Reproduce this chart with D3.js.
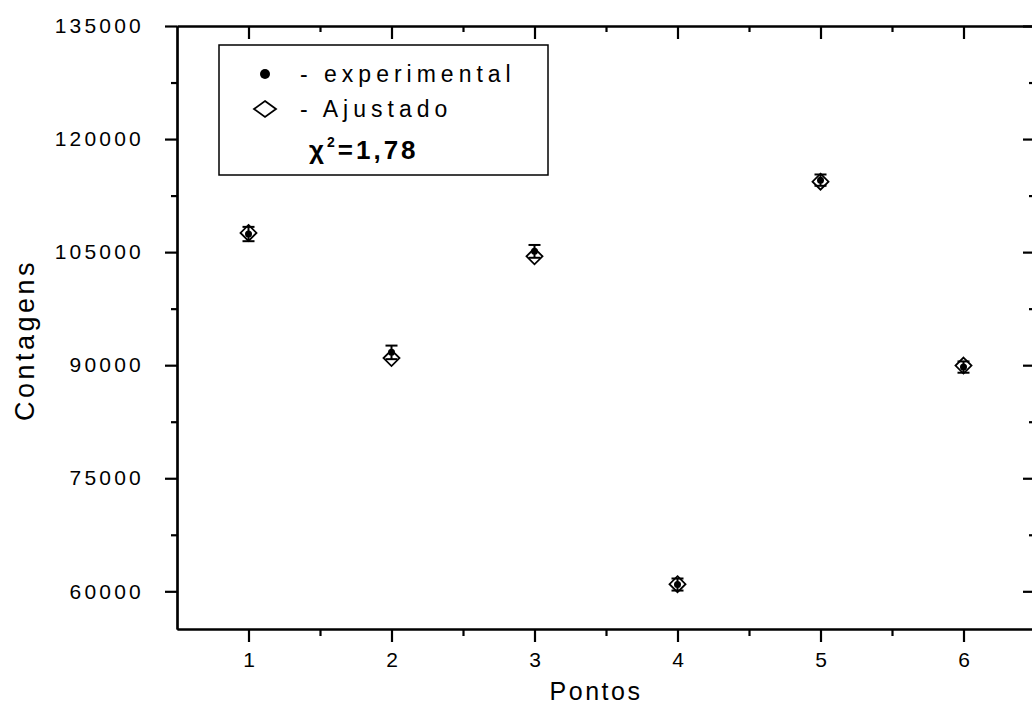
<!DOCTYPE html>
<html>
<head>
<meta charset="utf-8">
<script src="https://cdn.jsdelivr.net/npm/d3@7"></script>
<style>
  html, body { margin: 0; padding: 0; background: #fff; }
  svg { display: block; }
  text { font-family: Arial, "Liberation Sans", sans-serif; fill: #000; }
</style>
</head>
<body>
<svg id="chart" width="1032" height="719"></svg>
<script>
// Point indices on the horizontal axis
const pontos = [1, 2, 3, 4, 5, 6];
// Measured counts and their uncertainties
const experimental = [107400, 91700, 105100, 60900, 114550, 89750];
const experimentalErr = [950, 900, 850, 800, 750, 750];
// Counts from the fitted model
const ajustado = [107550, 90950, 104450, 60950, 114350, 89950];
// Axis tick values
const yTicks = [60000, 75000, 90000, 105000, 120000, 135000];
const yMinorTicks = [67500, 82500, 97500, 112500, 127500];
const xTicks = [1, 2, 3, 4, 5, 6];
const xMinorTicks = [1.5, 2.5, 3.5, 4.5, 5.5];

const svg = d3.select("#chart");
const plotLeft = 177, plotRight = 1035, plotTop = 26, plotBottom = 629;

const x = d3.scaleLinear().domain([0.5, 6.5]).range([plotLeft, plotRight]);
const y = d3.scaleLinear().domain([55000, 135000]).range([plotBottom, plotTop]);

function styleAxis(g) {
  g.selectAll("path.domain").attr("stroke", "#000").attr("stroke-width", 2.2);
  g.selectAll(".tick line").attr("stroke", "#000").attr("stroke-width", 2.2);
  g.attr("font-family", null).attr("font-size", null);
}

// Left axis: major and minor ticks pointing outward
svg.append("g").attr("transform", `translate(${plotLeft},0)`)
  .call(d3.axisLeft(y).tickValues(yMinorTicks).tickSize(6).tickSizeOuter(0).tickFormat(""))
  .call(styleAxis);
const yAxisG = svg.append("g").attr("transform", `translate(${plotLeft},0)`)
  .call(d3.axisLeft(y).tickValues(yTicks).tickSize(12).tickSizeOuter(0).tickPadding(21).tickFormat(d3.format("d")))
  .call(styleAxis);
yAxisG.selectAll("text")
  .style("font-size", "21px").style("letter-spacing", "3.2px");

// Right axis: ticks pointing inward
svg.append("g").attr("transform", `translate(${plotRight},0)`)
  .call(d3.axisLeft(y).tickValues(yTicks).tickSize(12).tickSizeOuter(0).tickFormat(""))
  .call(styleAxis);
svg.append("g").attr("transform", `translate(${plotRight},0)`)
  .call(d3.axisLeft(y).tickValues(yMinorTicks).tickSize(6).tickSizeOuter(0).tickFormat(""))
  .call(styleAxis);

// Bottom axis: ticks pointing outward
svg.append("g").attr("transform", `translate(0,${plotBottom})`)
  .call(d3.axisBottom(x).tickValues(xMinorTicks).tickSize(7).tickSizeOuter(0).tickFormat(""))
  .call(styleAxis);
const xAxisG = svg.append("g").attr("transform", `translate(0,${plotBottom})`)
  .call(d3.axisBottom(x).tickValues(xTicks).tickSize(13).tickSizeOuter(0).tickPadding(10).tickFormat(d3.format("d")))
  .call(styleAxis);
xAxisG.selectAll("text").style("font-size", "21px");

// Top axis: ticks pointing inward
svg.append("g").attr("transform", `translate(0,${plotTop})`)
  .call(d3.axisBottom(x).tickValues(xTicks).tickSize(13).tickSizeOuter(0).tickFormat(""))
  .call(styleAxis);
svg.append("g").attr("transform", `translate(0,${plotTop})`)
  .call(d3.axisBottom(x).tickValues(xMinorTicks).tickSize(6).tickSizeOuter(0).tickFormat(""))
  .call(styleAxis);

// Axis titles
svg.append("text")
  .attr("transform", `translate(34,340) rotate(-90)`)
  .attr("text-anchor", "middle")
  .style("font-size", "27px").style("letter-spacing", "3.5px")
  .text("Contagens");
svg.append("text")
  .attr("x", 596).attr("y", 700)
  .attr("text-anchor", "middle")
  .style("font-size", "25px").style("letter-spacing", "2.5px")
  .text("Pontos");

// Data
const data = pontos.map((p, i) => ({
  p, exp: experimental[i], err: experimentalErr[i], fit: ajustado[i]
}));

const diamond = (cx, cy, w, h) =>
  `M${cx},${cy - h / 2}L${cx + w / 2},${cy}L${cx},${cy + h / 2}L${cx - w / 2},${cy}Z`;

const marks = svg.append("g");
// Error bars of the measured counts
const eb = marks.selectAll("g.err").data(data).join("g").attr("class", "err")
  .attr("stroke", "#000").attr("stroke-width", 2);
eb.append("line")
  .attr("x1", d => x(d.p)).attr("x2", d => x(d.p))
  .attr("y1", d => y(d.exp - d.err)).attr("y2", d => y(d.exp + d.err));
eb.append("line")
  .attr("x1", d => x(d.p) - 6).attr("x2", d => x(d.p) + 6)
  .attr("y1", d => y(d.exp + d.err)).attr("y2", d => y(d.exp + d.err));
eb.append("line")
  .attr("x1", d => x(d.p) - 6).attr("x2", d => x(d.p) + 6)
  .attr("y1", d => y(d.exp - d.err)).attr("y2", d => y(d.exp - d.err));

// Measured counts
marks.selectAll("circle.exp").data(data).join("circle").attr("class", "exp")
  .attr("cx", d => x(d.p)).attr("cy", d => y(d.exp)).attr("r", 3.5)
  .attr("fill", "#000");

// Fitted counts
marks.selectAll("path.fit").data(data).join("path").attr("class", "fit")
  .attr("d", d => diamond(x(d.p), y(d.fit), 16, 16))
  .attr("fill", "none").attr("stroke", "#000").attr("stroke-width", 1.8);

// Legend
const lg = svg.append("g");
lg.append("rect")
  .attr("x", 219).attr("y", 45).attr("width", 329).attr("height", 130)
  .attr("fill", "#fff").attr("stroke", "#000").attr("stroke-width", 1.5);
lg.append("circle").attr("cx", 265).attr("cy", 74).attr("r", 5).attr("fill", "#000");
lg.append("text").attr("x", 300).attr("y", 82)
  .style("font-size", "23px").style("letter-spacing", "5px")
  .text("- experimental");
lg.append("path").attr("d", diamond(265, 109, 22, 16))
  .attr("fill", "none").attr("stroke", "#000").attr("stroke-width", 1.8);
lg.append("text").attr("x", 300).attr("y", 117)
  .style("font-size", "23px").style("letter-spacing", "5px")
  .text("- Ajustado");
const chi = lg.append("text").attr("x", 309).attr("y", 159)
  .style("font-size", "26px").style("font-weight", "bold").style("letter-spacing", "3px");
chi.append("tspan").text("χ");
chi.append("tspan").attr("dy", -12).style("font-size", "14px").text("2");
chi.append("tspan").attr("dy", 12).text("=1,78");
</script>
</body>
</html>
